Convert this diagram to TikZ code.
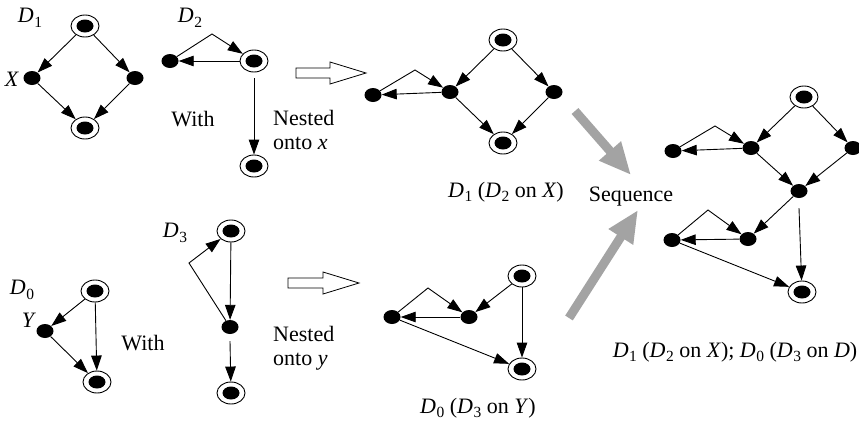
\documentclass[tikz,border=0pt]{standalone}
\usepackage{fontspec}
\setmainfont{Liberation Serif}
\usetikzlibrary{arrows.meta,shapes.geometric}
\newcommand\subs[1]{\raisebox{-0.45ex}{\fontsize{15.5}{15.5}\selectfont #1}}
\newcommand\DD[1]{\textit{D}\kern0.5pt\subs{#1}}
\tikzset{
  dot/.style={ellipse, fill=black, minimum width=17pt, minimum height=14pt, inner sep=0pt},
  ddot/.style={ellipse, draw, line width=0.9pt, minimum width=28pt, minimum height=22pt, inner sep=0pt,
    path picture={\fill (path picture bounding box.center) ellipse [x radius=8.5pt, y radius=6.5pt];}},
  conn/.style={draw, line width=0.9pt, -{Triangle[length=15pt,width=10.5pt]}},
  lbl/.style={inner sep=0pt},
  twoline/.style={inner sep=0pt, anchor=west, align=left, font=\fontsize{22}{24}\selectfont},
  hollow/.style={draw, line width=0.8pt, fill=white},
  seqarrow/.style={draw=black!36, line width=9pt, -{Triangle[length=32pt,width=27pt]}},
}
\begin{document}
\begin{tikzpicture}[x=1pt,y=-1pt,font=\fontsize{22}{25}\selectfont]
\useasboundingbox (0,0) rectangle (859,424);

% ---------- D1 ----------
\node[ddot] (t1) at (85,26) {};
\node[dot]  (x1) at (32,78) {};
\node[dot]  (r1) at (135,78) {};
\node[ddot] (b1) at (85,128) {};
\draw[conn] (t1) -- (x1);
\draw[conn] (t1) -- (r1);
\draw[conn] (x1) -- (b1);
\draw[conn] (r1) -- (b1);
\node[lbl] (lD1) at (30,18) {\DD{1}};
\node[lbl] (lX) at (12,79) {\textit{X}};

% ---------- D2 ----------
\node[dot]  (l2) at (170,61) {};
\node[ddot] (r2) at (254,61) {};
\node[ddot] (b2) at (254,166) {};
\coordinate (p2) at (212,34);
\draw[conn] (l2) -- (p2) -- (r2);
\draw[conn] (r2) -- (l2);
\draw[conn] ([yshift=-6pt]r2.south) -- (b2);
\node[lbl] (lD2) at (190,18) {\DD{2}};
\node[lbl] (w1) at (193,119) {With};
\node[twoline] (n1) at (273,130) {Nested\\onto \textit{x}};

% hollow arrow 1
\draw[hollow] (296,68) -- (330,68) -- (330,62) -- (366,73) -- (330,84) -- (330,78) -- (296,78) -- cycle;

% ---------- D1(D2 on X) ----------
\node[ddot] (mt) at (503,40) {};
\node[dot]  (ml) at (450,92) {};
\node[dot]  (mr) at (554,92) {};
\node[ddot] (mb) at (503,143) {};
\node[dot]  (mfl) at (373,95) {};
\coordinate (mp) at (415,70);
\draw[conn] (mt) -- (ml);
\draw[conn] (mt) -- (mr);
\draw[conn] (ml) -- (mb);
\draw[conn] (mr) -- (mb);
\draw[conn] (ml) -- (mfl);
\draw[conn] (mfl) -- (mp) -- (ml);
\node[lbl] (lm1) at (506,192) {\DD{1} (\DD{2} on \textit{X})};

% ---------- Sequence ----------
\coordinate (s1a) at (575,111);
\coordinate (s1b) at (631,175);
\coordinate (s2a) at (569,318);
\coordinate (s2b) at (638,210);
\draw[seqarrow] (s1a) -- (s1b);
\draw[seqarrow] (s2a) -- (s2b);
\node[lbl] (seq) at (631,197) {Sequence};

% ---------- right graph ----------
\node[ddot] (rt) at (804,97) {};
\node[dot]  (ra) at (751,148) {};
\node[dot]  (rr) at (853,148) {};
\node[dot]  (rm) at (799,191) {};
\node[dot]  (rfl) at (673,151) {};
\coordinate (rp) at (715,126);
\node[dot]  (rb) at (748,239) {};
\node[dot]  (rfl2) at (672,240) {};
\coordinate (rp2) at (708,210);
\node[ddot] (rbot) at (802,292) {};
\draw[conn] (rt) -- (ra);
\draw[conn] (rt) -- (rr);
\draw[conn] (ra) -- (rm);
\draw[conn] (rr) -- (rm);
\draw[conn] (ra) -- (rfl);
\draw[conn] (rfl) -- (rp) -- (ra);
\draw[conn] (rm) -- (rb);
\draw[conn] (rb) -- (rfl2);
\draw[conn] (rfl2) -- (rp2) -- (rb);
\draw[conn] ([yshift=-10pt]rm.south) -- (rbot);
\draw[conn] (rfl2) -- (rbot);
\node[lbl] (lr) at (735,352) {\DD{1} (\DD{2} on \textit{X}); \DD{0} (\DD{3} on \textit{D})};

% ---------- D0 ----------
\node[ddot] (t0) at (95,291) {};
\node[dot]  (y0) at (45,331) {};
\node[ddot] (b0) at (97,382) {};
\draw[conn] (t0) -- (y0);
\draw[conn] (t0) -- (b0);
\draw[conn] (y0) -- (b0);
\node[lbl] (lD0) at (22,290) {\DD{0}};
\node[lbl] (lY) at (29,320) {\textit{Y}};
\node[lbl] (w2) at (143,343) {With};

% ---------- D3 ----------
\node[ddot] (t3) at (231,231) {};
\node[dot]  (m3) at (230,327) {};
\node[ddot] (b3) at (231,393) {};
\coordinate (p3) at (189,263);
\draw[conn] (t3) -- (m3);
\draw[conn] ([yshift=-7pt]m3.south) -- (b3);
\draw[conn] (m3) -- (p3) -- (t3);
\node[lbl] (lD3) at (175,233) {\DD{3}};
\node[twoline] (n2) at (273,348) {Nested\\onto \textit{y}};

% hollow arrow 2
\draw[hollow] (288,278) -- (323,278) -- (323,272) -- (359,283) -- (323,294) -- (323,288) -- (288,288) -- cycle;

% ---------- D0(D3 on Y) ----------
\node[ddot] (bt) at (522,276) {};
\node[dot]  (bn) at (469,317) {};
\node[dot]  (bfl) at (392,317) {};
\coordinate (bp) at (428,288);
\node[ddot] (bb) at (522,369) {};
\draw[conn] (bt) -- (bn);
\draw[conn] (bt) -- (bb);
\draw[conn] (bn) -- (bfl);
\draw[conn] (bfl) -- (bp) -- (bn);
\draw[conn] (bfl) -- (bb);
\node[lbl] (lb) at (478,408) {\DD{0} (\DD{3} on \textit{Y})};
\end{tikzpicture}
\end{document}
